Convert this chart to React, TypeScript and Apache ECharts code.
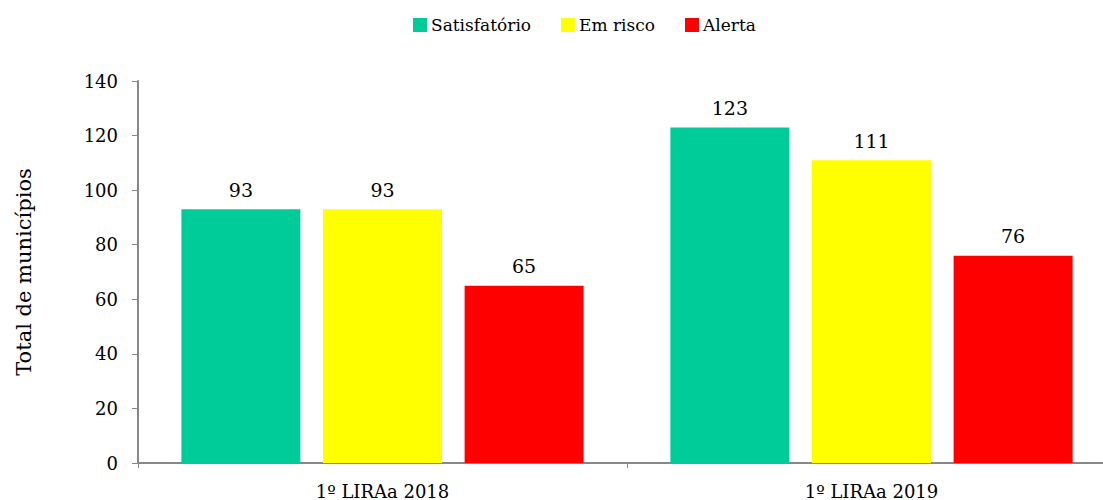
import React, { useEffect, useRef } from "react";
import * as echarts from "echarts";

const categories = ["1º LIRAa 2018", "1º LIRAa 2019"];
const seriesNames = ["Satisfatório", "Em risco", "Alerta"];
const satisfatorio = [93, 123];
const emRisco = [93, 111];
const alerta = [65, 76];
const colors = ["#00CC99", "#FFFF00", "#FF0000"];

const FONT = "DejaVu Serif";
const legendX = [413, 561, 685];

export default function App() {
  const ref = useRef<HTMLDivElement>(null);
  useEffect(() => {
    if (!ref.current) return;
    const chart = echarts.init(ref.current, undefined, { renderer: "svg" });
    const values = [satisfatorio, emRisco, alerta];
    const legendGraphics: any[] = [];
    seriesNames.forEach((name, i) => {
      legendGraphics.push({
        type: "rect",
        shape: { x: legendX[i], y: 18, width: 14, height: 14 },
        style: { fill: colors[i] },
        silent: true,
      });
      legendGraphics.push({
        type: "text",
        x: legendX[i] + 18,
        y: 25,
        style: {
          text: name,
          font: "17px 'DejaVu Serif', serif",
          fill: "#000",
          verticalAlign: "middle",
        },
        silent: true,
      });
    });
    chart.setOption({
      animation: false,
      textStyle: { fontFamily: FONT },
      graphic: legendGraphics,
      grid: { left: 138, top: 81, width: 978, height: 382 },
      xAxis: {
        type: "category",
        data: categories,
        axisLine: { lineStyle: { color: "#888", width: 2 } },
        axisTick: { show: true, length: 5, alignWithLabel: false, lineStyle: { color: "#888" } },
        axisLabel: { fontFamily: FONT, fontSize: 18, color: "#000", margin: 19 },
      },
      yAxis: {
        type: "value",
        min: 0,
        max: 140,
        interval: 20,
        name: "Total de municípios",
        nameLocation: "middle",
        nameGap: 104,
        nameTextStyle: { fontFamily: FONT, fontSize: 21, color: "#000" },
        axisLine: { show: true, lineStyle: { color: "#888", width: 2 } },
        axisTick: { show: true, length: 6, lineStyle: { color: "#888" } },
        splitLine: { show: false },
        axisLabel: { fontFamily: FONT, fontSize: 18, color: "#000", margin: 20 },
      },
      series: seriesNames.map((name, i) => ({
        name,
        type: "bar",
        data: values[i],
        barWidth: 119,
        barGap: "19%",
        itemStyle: { color: colors[i] },
        label: {
          show: true,
          position: "top",
          distance: 10,
          fontFamily: FONT,
          fontSize: 19,
          color: "#000",
        },
      })),
    });
    return () => chart.dispose();
  }, []);
  return (
    <div style={{ width: 1103, height: 500, position: "absolute", left: 0, top: 0, overflow: "hidden" }}>
      <div ref={ref} style={{ width: 1140, height: 500 }} />
    </div>
  );
}
